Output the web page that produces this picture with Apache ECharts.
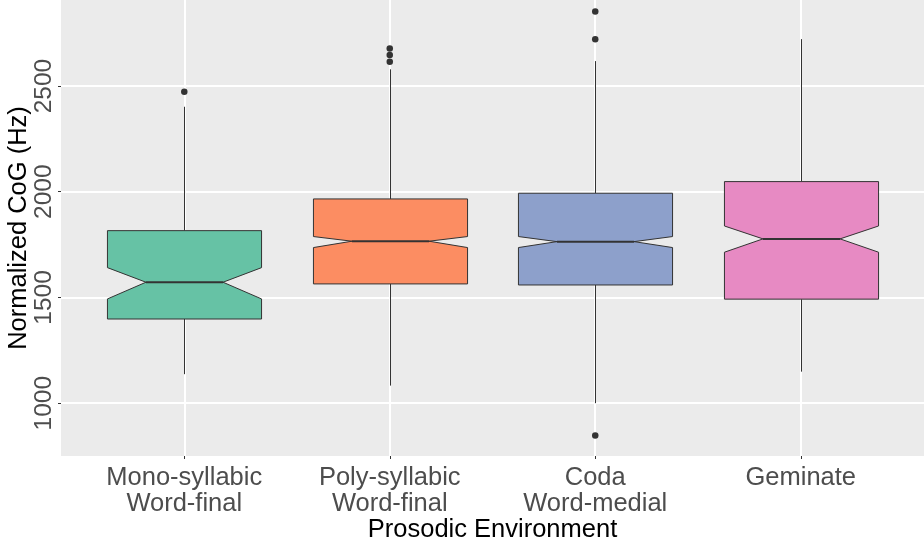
<!DOCTYPE html>
<html>
<head>
<meta charset="utf-8">
<script src="https://cdn.jsdelivr.net/npm/echarts@6/dist/echarts.min.js"></script>
<style>
html,body{margin:0;padding:0;background:#fff;}
#chart{width:924px;height:538px;}
</style>
</head>
<body>
<div id="chart"></div>
<script>
// ---- data ----
const categories = ['Mono-syllabic\nWord-final', 'Poly-syllabic\nWord-final', 'Coda\nWord-medial', 'Geminate'];
const whiskerLow  = [1137, 1083, 1000, 1149];
const q1          = [1398, 1564, 1559, 1492];
const notchLow    = [1493, 1736, 1736, 1714];
const median      = [1572, 1766, 1764, 1777];
const notchHigh   = [1641, 1788, 1788, 1838];
const q3          = [1816, 1966, 1993, 2048];
const whiskerHigh = [2402, 2579, 2618, 2722];
const outlierCategory = [1, 2, 2, 2, 3, 3, 3];
const outlierValue    = [2473, 2678, 2647, 2615, 2853, 2721, 847];
const yTicks = [1000, 1500, 2000, 2500];
const boxColors = ['#66C2A5', '#FC8D62', '#8DA0CB', '#E78AC3'];

const boxData = categories.map((c, i) => [i + 1, whiskerLow[i], q1[i], notchLow[i], median[i], notchHigh[i], q3[i], whiskerHigh[i]]);
const outlierData = outlierCategory.map((c, i) => [c, outlierValue[i]]);

const chart = echarts.init(document.getElementById('chart'), null, {renderer: 'canvas'});

function renderBox(params, api) {
  const x = api.value(0);
  const halfW = api.size([0.375, 0])[0];
  const halfN = api.size([0.1875, 0])[0];
  const c = api.coord([x, api.value(4)]);
  const cx = Math.round(c[0]) + 0.5;
  const yv = k => api.coord([x, api.value(k)])[1];
  const yMin = yv(1), yQ1 = yv(2), yNL = yv(3), yMed = yv(4), yNH = yv(5), yQ3 = yv(6), yMax = yv(7);
  const L = cx - halfW, R = cx + halfW, iL = cx - halfN, iR = cx + halfN;
  const stroke = '#333333';
  return {
    type: 'group',
    children: [
      {type: 'line', shape: {x1: cx, y1: yQ3, x2: cx, y2: yMax}, style: {stroke: stroke, lineWidth: 1}},
      {type: 'line', shape: {x1: cx, y1: yQ1, x2: cx, y2: yMin}, style: {stroke: stroke, lineWidth: 1}},
      {type: 'polygon', shape: {points: [
        [L, yQ3], [R, yQ3], [R, yNH], [iR, yMed], [R, yNL], [R, yQ1],
        [L, yQ1], [L, yNL], [iL, yMed], [L, yNH]
      ]}, style: {fill: boxColors[params.dataIndex], stroke: stroke, lineWidth: 1}},
      {type: 'line', shape: {x1: iL, y1: yMed, x2: iR, y2: yMed}, style: {stroke: stroke, lineWidth: 2}}
    ]
  };
}

const option = {
  animation: false,
  backgroundColor: '#ffffff',
  grid: [
    {left: 61, right: 0, top: 0, bottom: 82, show: true, backgroundColor: '#EBEBEB', borderWidth: 0,
     containLabel: false, outerBoundsMode: 'none'},
    {left: 81.5, right: 20.5, top: 0, bottom: 82, show: false, containLabel: false, outerBoundsMode: 'none'}
  ],
  xAxis: [
    {type: 'value', gridIndex: 0, min: 0.4, max: 4.6, show: true,
     axisLine: {show: false}, axisTick: {show: false}, axisLabel: {show: false}, splitLine: {show: false}},
    {type: 'category', gridIndex: 1, data: categories, boundaryGap: true,
     axisLine: {show: false},
     axisTick: {show: true, alignWithLabel: true, length: 3, lineStyle: {color: '#333333', width: 1}},
     axisLabel: {interval: 0, color: '#4D4D4D', fontSize: 25.5, lineHeight: 26, margin: 9, fontFamily: 'Liberation Sans'},
     splitLine: {show: false},
     name: 'Prosodic Environment', nameLocation: 'middle', nameGap: 61, nameMoveOverlap: false,
     nameTextStyle: {color: '#000000', fontSize: 25.5, fontFamily: 'Liberation Sans'}}
  ],
  yAxis: [
    {type: 'value', gridIndex: 0, min: 750, max: 2907, interval: 250,
     axisLine: {show: false},
     axisTick: {show: true, customValues: yTicks, length: 3, lineStyle: {color: '#333333', width: 1}},
     axisLabel: {customValues: yTicks, rotate: 90, margin: 4, color: '#4D4D4D', fontSize: 24.5, fontFamily: 'Liberation Sans',
                 formatter: v => String(v)},
     splitLine: {show: true, lineStyle: {color: '#FFFFFF', width: 1}},
     name: 'Normalized CoG (Hz)', nameLocation: 'middle', nameGap: 29, nameRotate: 90, nameMoveOverlap: false,
     nameTextStyle: {color: '#000000', fontSize: 25.5, fontFamily: 'Liberation Sans'}},
    {type: 'value', gridIndex: 1, min: 750, max: 2907, show: false}
  ],
  series: [
    {type: 'line', xAxisIndex: 0, yAxisIndex: 0, data: [], z: 1, silent: true,
     markLine: {silent: true, z: 1, symbol: 'none', label: {show: false}, animation: false,
       lineStyle: {color: '#FFFFFF', width: 2, type: 'solid'},
       data: yTicks.map(v => ({yAxis: v})).concat(categories.map((c, i) => ({xAxis: i + 1})))}},
    {type: 'custom', xAxisIndex: 0, yAxisIndex: 0, data: boxData, renderItem: renderBox, z: 3,
     encode: {x: 0, y: [1, 2, 3, 4, 5, 6, 7]}},
    {type: 'scatter', xAxisIndex: 0, yAxisIndex: 0, data: outlierData, symbol: 'circle', symbolSize: 6.5,
     itemStyle: {color: '#333333', opacity: 1}, z: 4}
  ]
};
chart.setOption(option);
</script>
</body>
</html>
